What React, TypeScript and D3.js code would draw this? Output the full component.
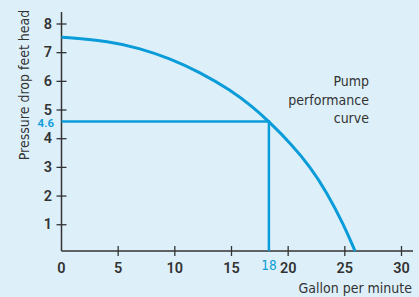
import React, { useEffect, useRef } from 'react';
import * as d3 from 'd3';

// pump curve (gallon per minute, feet head)
const flowValues = [0, 4.3, 6.9, 9.6, 12.2, 14.9, 16.9, 18.3, 20.3, 21.9, 23.4, 24.9, 25.9];
const headValues = [7.54, 7.4, 7.15, 6.8, 6.32, 5.7, 5.1, 4.6, 3.8, 3.04, 2.14, 1.0, 0.08];

const xTicks = [0, 5, 10, 15, 20, 25, 30];
const yTicks = [1, 2, 3, 4, 5, 6, 7, 8];

// operating point
const opFlow = 18.3;
const opHead = 4.6;
const opFlowLabel = '18';
const opHeadLabel = '4.6';

const curveLabel = ['Pump', 'performance', 'curve'];

export default function App() {
  const svgRef = useRef<SVGSVGElement>(null);

  useEffect(() => {
    if (!svgRef.current) return;
    const width = 419;
    const height = 297;
    const svg = d3.select(svgRef.current);
    svg.selectAll('*').remove();

    const font = '"DejaVu Sans Condensed", "Liberation Sans Narrow", sans-serif';
    const tickFont = 'Roboto, "DejaVu Sans Condensed", sans-serif';
    const blue = '#0a9bd9';
    const ink = '#333333';

    svg.append('rect').attr('width', width).attr('height', height).attr('fill', '#ddf0fa');

    const x = d3.scaleLinear().domain([0, 30]).range([61.5, 401.5]);
    const y = d3.scaleLinear().domain([0, 8]).range([253.4, 24]);
    const axisY = 251;

    // axes lines
    svg.append('line')
      .attr('x1', x(0)).attr('x2', 413)
      .attr('y1', axisY).attr('y2', axisY)
      .attr('stroke', ink).attr('stroke-width', 1.5);
    svg.append('line')
      .attr('x1', x(0)).attr('x2', x(0))
      .attr('y1', 12).attr('y2', axisY)
      .attr('stroke', ink).attr('stroke-width', 1.5);

    // y ticks
    const yt = svg.append('g');
    yt.selectAll('line').data(yTicks).enter().append('line')
      .attr('x1', x(0) - 5).attr('x2', x(0) + 5)
      .attr('y1', d => y(d)).attr('y2', d => y(d))
      .attr('stroke', ink).attr('stroke-width', 1.3);
    yt.selectAll('text').data(yTicks).enter().append('text')
      .attr('x', 52).attr('y', d => y(d) + 4.5)
      .attr('text-anchor', 'end')
      .attr('font-family', tickFont).attr('font-size', 14.5).attr('font-weight', 600)
      .attr('fill', ink)
      .text(d => d);

    // x ticks
    const xt = svg.append('g');
    xt.selectAll('line').data(xTicks.filter(d => d > 0)).enter().append('line')
      .attr('x1', d => x(d)).attr('x2', d => x(d))
      .attr('y1', axisY - 5).attr('y2', axisY + 5)
      .attr('stroke', ink).attr('stroke-width', 1.3);
    xt.selectAll('text').data(xTicks).enter().append('text')
      .attr('x', d => x(d)).attr('y', 272.5)
      .attr('text-anchor', 'middle')
      .attr('font-family', tickFont).attr('font-size', 14.5).attr('font-weight', 600)
      .attr('fill', ink)
      .text(d => d);

    // operating point guides
    svg.append('path')
      .attr('d', `M${x(0)},${y(opHead)}H${x(opFlow)}V${axisY}`)
      .attr('fill', 'none').attr('stroke', blue).attr('stroke-width', 2.5);

    const line = d3.line<number>()
      .x((_, i) => x(flowValues[i]))
      .y(d => y(d))
      .curve(d3.curveBasis);
    svg.append('path')
      .attr('d', line(headValues))
      .attr('fill', 'none').attr('stroke', blue).attr('stroke-width', 3);

    svg.append('text')
      .attr('x', 54).attr('y', y(opHead) + 5.5)
      .attr('text-anchor', 'end')
      .attr('font-family', tickFont).attr('font-size', 11.5).attr('font-weight', 600)
      .attr('fill', blue).text(opHeadLabel);
    svg.append('text')
      .attr('x', x(opFlow)).attr('y', 269.5)
      .attr('text-anchor', 'middle')
      .attr('font-family', font).attr('font-size', 13.5)
      .attr('fill', blue).text(opFlowLabel);

    // axis titles
    svg.append('text')
      .attr('transform', 'translate(29,85) rotate(-90)')
      .attr('text-anchor', 'middle')
      .attr('font-family', font).attr('font-size', 14)
      .attr('fill', ink).text('Pressure drop feet head');
    svg.append('text')
      .attr('x', 412).attr('y', 293)
      .attr('text-anchor', 'end')
      .attr('font-family', font).attr('font-size', 14)
      .attr('fill', ink).text('Gallon per minute');

    svg.append('text')
      .attr('text-anchor', 'end')
      .attr('font-family', font).attr('font-size', 14)
      .attr('fill', ink)
      .selectAll('tspan').data(curveLabel).enter().append('tspan')
      .attr('x', 369).attr('y', (_, i) => 86 + i * 18.5)
      .text(d => d);
  }, []);

  return (
    <svg ref={svgRef} width={419} height={297}
      style={{ position: 'absolute', left: 0, top: 0, display: 'block' }} />
  );
}
